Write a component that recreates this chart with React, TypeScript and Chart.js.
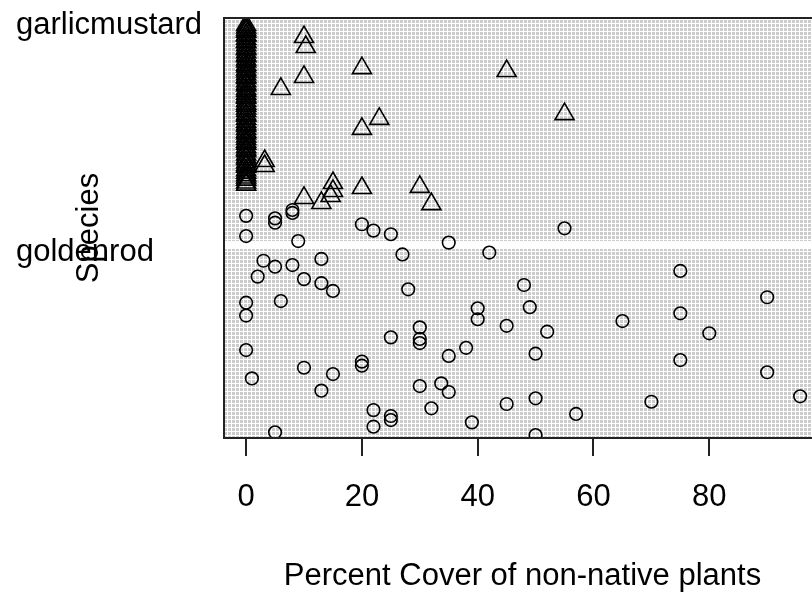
import React, { useEffect, useRef } from 'react';
import { Chart, registerables } from 'chart.js';

Chart.register(...registerables);

// Category labels (y levels) and axis text
const SPECIES = ['goldenrod', 'garlicmustard'];
const SPECIES_LEVELS = [1, 2];
const X_TICKS = [0, 20, 40, 60, 80];
const X_TITLE = 'Percent Cover of non-native plants';
const Y_TITLE = 'Species';
const X_RANGE = [-3.82, 99.3];
const Y_RANGE = [0.182, 2.035];

// garlicmustard (triangles): x = percent cover, y = level 2 with vertical jitter
const GARLIC_X = [
  10, 10.3, 20, 45, 10, 6, 55, 23, 20, 3.2, 3.2, 15, 15, 14.6, 20, 30, 10, 13, 32,
  0, 0, 0, 0, 0, 0, 0, 0, 0, 0, 0, 0, 0, 0, 0, 0, 0, 0, 0, 0, 0,
  0, 0, 0, 0, 0, 0, 0, 0, 0, 0, 0, 0, 0, 0, 0, 0, 0, 0, 0, 0, 0,
  0, 0, 0, 0, 0, 0, 0, 0, 0, 0, 0, 0, 0, 0, 0, 0, 0, 0, 0, 0, 0, 0,
  0, 0,
];
const GARLIC_Y = [
  1.951, 1.907, 1.814, 1.801, 1.775, 1.722, 1.611, 1.59, 1.546, 1.404, 1.382, 1.307, 1.272, 1.25, 1.285, 1.29, 1.241, 1.219, 1.214,
  1.982, 1.975, 1.961, 1.957, 1.944, 1.931, 1.928, 1.915, 1.902, 1.897, 1.884, 1.871, 1.866, 1.852, 1.843, 1.829, 1.821, 1.808, 1.799, 1.787, 1.776,
  1.77, 1.756, 1.744, 1.737, 1.722, 1.713, 1.701, 1.69, 1.683, 1.669, 1.657, 1.648, 1.636, 1.625, 1.611, 1.604, 1.591, 1.578, 1.566, 1.559, 1.545,
  1.533, 1.526, 1.512, 1.501, 1.489, 1.48, 1.466, 1.455, 1.447, 1.433, 1.421, 1.412, 1.398, 1.387, 1.379, 1.364, 1.353, 1.342, 1.331, 1.322, 1.309, 1.3,
  2.004, 1.993,
];

// goldenrod (circles): x = percent cover, y = level 1 with vertical jitter
const GOLDEN_X = [
  0, 5, 5, 8, 8, 0, 9, 20, 22, 25, 35, 27, 42, 3, 5, 8, 13, 2, 10, 13, 15, 28,
  0, 0, 6, 40, 40, 45, 30, 30, 30, 25, 0, 38, 35, 20, 20, 10, 15, 1, 13, 30, 33.7, 35,
  45, 32, 22, 25, 25, 22, 39, 5, 55, 75, 48, 90, 49, 75, 65, 52, 80, 50, 75, 90, 50, 70, 57, 50, 95.7,
];
const GOLDEN_Y = [
  1.162, 1.151, 1.132, 1.188, 1.175, 1.073, 1.051, 1.125, 1.097, 1.081, 1.044, 0.992, 1.0, 0.964, 0.938, 0.945, 0.972, 0.894, 0.883, 0.865, 0.831, 0.838,
  0.779, 0.722, 0.786, 0.754, 0.706, 0.677, 0.67, 0.619, 0.601, 0.626, 0.57, 0.58, 0.544, 0.519, 0.501, 0.492, 0.464, 0.445, 0.391, 0.411, 0.423, 0.385,
  0.332, 0.313, 0.305, 0.279, 0.261, 0.232, 0.251, 0.207, 1.107, 0.919, 0.857, 0.803, 0.759, 0.732, 0.698, 0.651, 0.644, 0.554, 0.526, 0.472, 0.357, 0.342, 0.288, 0.195, 0.366,
];

// gap in the dotted background just above the goldenrod level
const BAND = [1.016, 1.051];

const FONT = { family: "'Liberation Sans', Arial, sans-serif", size: 31 };

const backdrop = {
  id: 'backdrop',
  beforeDatasetsDraw(chart: any) {
    const { ctx, chartArea: a, scales } = chart;
    ctx.save();
    ctx.beginPath();
    ctx.rect(a.left, a.top, a.right - a.left, a.bottom - a.top);
    ctx.clip();
    const tile = document.createElement('canvas');
    tile.width = 4;
    tile.height = 4;
    const t = tile.getContext('2d')!;
    t.fillStyle = '#ffffff';
    t.fillRect(0, 0, 4, 4);
    t.fillStyle = '#cccccc';
    t.fillRect(0, 0, 3, 3);
    const pat = ctx.createPattern(tile, 'repeat');
    if (pat) ctx.fillStyle = pat;
    ctx.fillRect(a.left, a.top, a.right - a.left, a.bottom - a.top);
    const yTop = scales.y.getPixelForValue(BAND[1]);
    const yBot = scales.y.getPixelForValue(BAND[0]);
    ctx.fillStyle = '#ffffff';
    ctx.fillRect(a.left, yTop, a.right - a.left, yBot - yTop);
    ctx.restore();
  },
  afterDatasetsDraw(chart: any) {
    const { ctx, chartArea: a } = chart;
    ctx.save();
    ctx.strokeStyle = '#222';
    ctx.lineWidth = 2;
    ctx.strokeRect(a.left, a.top, a.right - a.left, a.bottom - a.top);
    ctx.restore();
  },
};

export default function App() {
  const ref = useRef<HTMLCanvasElement>(null);
  useEffect(() => {
    if (!ref.current) return;
    const garlic = GARLIC_X.map((x, i) => ({ x, y: GARLIC_Y[i] }));
    const golden = GOLDEN_X.map((x, i) => ({ x, y: GOLDEN_Y[i] }));
    const chart = new Chart(ref.current, {
      type: 'scatter',
      data: {
        datasets: [
          {
            label: SPECIES[1],
            data: garlic,
            pointStyle: 'triangle',
            pointRadius: 11,
            pointBorderWidth: 1.6,
            borderColor: '#000',
            backgroundColor: 'rgba(0,0,0,0)',
          },
          {
            label: SPECIES[0],
            data: golden,
            pointStyle: 'circle',
            pointRadius: 6.3,
            pointBorderWidth: 1.6,
            borderColor: '#000',
            backgroundColor: 'rgba(0,0,0,0)',
          },
        ],
      },
      options: {
        animation: false,
        responsive: false,
        devicePixelRatio: 1,
        layout: { padding: { left: 16, top: 18, right: 19, bottom: 0 } },
        plugins: { legend: { display: false }, tooltip: { enabled: false } },
        scales: {
          x: {
            type: 'linear',
            min: X_RANGE[0],
            max: X_RANGE[1],
            afterBuildTicks: (s: any) => { s.ticks = X_TICKS.map((v) => ({ value: v })); },
            afterFit: (s: any) => { s.height = 160; },
            grid: { drawOnChartArea: false, drawTicks: true, tickLength: 18, color: '#222', lineWidth: 2 },
            border: { display: false },
            ticks: { color: '#000', font: { ...FONT, lineHeight: 1 }, padding: 26, maxRotation: 0 },
            title: { display: true, text: X_TITLE, color: '#000', font: { ...FONT, lineHeight: 1.2 }, padding: { top: 0, bottom: 3 } },
          },
          y: {
            type: 'linear',
            min: Y_RANGE[0],
            max: Y_RANGE[1],
            afterBuildTicks: (s: any) => { s.ticks = SPECIES_LEVELS.map((v) => ({ value: v })); },
            afterFit: (s: any) => { s.width = 208; },
            grid: { display: false },
            border: { display: false },
            ticks: {
              color: '#000',
              font: { ...FONT, lineHeight: 1 },
              padding: 0,
              crossAlign: 'far',
              callback: (_v: any, i: number) => SPECIES[i],
            },
            title: { display: true, text: Y_TITLE, color: '#000', font: { ...FONT, lineHeight: 1.2 }, padding: { top: 55, bottom: 0 } },
          },
        },
      },
      plugins: [backdrop],
    } as any);
    return () => chart.destroy();
  }, []);
  return (
    <div style={{ position: 'fixed', left: 0, top: 0, width: 812, height: 598, overflow: 'hidden', background: '#fff' }}>
      <canvas ref={ref} width={840} height={598} style={{ display: 'block', width: 840, height: 598 }} />
    </div>
  );
}
